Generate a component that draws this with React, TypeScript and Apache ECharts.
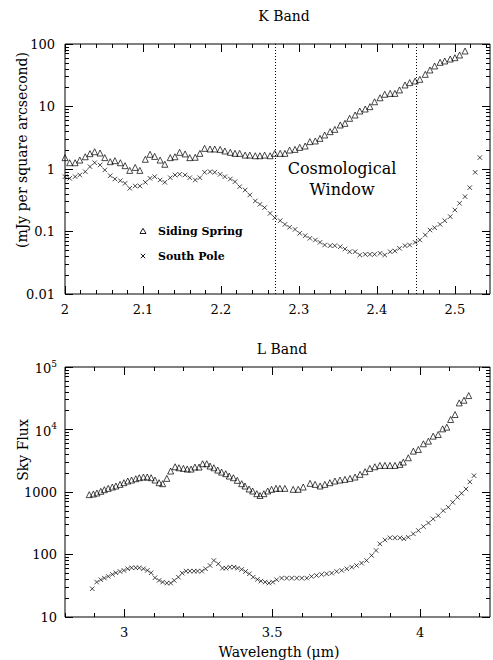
import React, { useEffect, useRef } from "react";
import * as echarts from "echarts";

// ---------- K band (top panel) ----------
const kWave = [
  2.0, 2.006, 2.013, 2.019, 2.026, 2.032, 2.038, 2.045, 2.051, 2.058,
  2.064, 2.071, 2.077, 2.083, 2.09, 2.096, 2.103, 2.109, 2.115, 2.122,
  2.128, 2.135, 2.141, 2.147, 2.154, 2.16, 2.167, 2.173, 2.179, 2.186,
  2.192, 2.199, 2.205, 2.212, 2.218, 2.224, 2.231, 2.237, 2.244, 2.25,
  2.256, 2.263, 2.269, 2.276, 2.282, 2.288, 2.295, 2.301, 2.308, 2.314,
  2.321, 2.327, 2.333, 2.34, 2.346, 2.353, 2.359, 2.365, 2.372, 2.378,
  2.385, 2.391, 2.397, 2.404, 2.41, 2.417, 2.423, 2.429, 2.436, 2.442,
  2.449, 2.455, 2.462, 2.468, 2.474, 2.481, 2.487, 2.494, 2.5, 2.506,
  2.513, 2.519, 2.526, 2.532,
];
const kSidingSpring = [
  1.52, 1.26, 1.26, 1.39, 1.57, 1.76, 1.89, 1.8, 1.52, 1.31,
  1.36, 1.26, 1.13, 0.95, 1.06, 0.95, 1.43, 1.72, 1.59, 1.39,
  1.19, 1.52, 1.57, 1.85, 1.74, 1.52, 1.54, 1.78, 2.14, 2.09,
  2.09, 2.06, 1.94, 1.85, 1.78, 1.78, 1.67, 1.67, 1.63, 1.63,
  1.67, 1.63, 1.78, 1.78, 1.78, 2.01, 2.06, 2.22, 2.33, 2.74,
  2.81, 3.09, 3.5, 3.96, 4.31, 5.06, 5.38, 6.47, 7.31, 8.47,
  9.12, 9.94, 11.9, 13.8, 15.7, 16.2, 16.2, 18.4, 22.1, 24.1,
  25.6, 27.2, 32.7, 38.4, 44.5, 50.9, 53.5, 57.5, 60.4, 66.7,
  77.3,
];
const kSouthPole = [
  0.754, 0.709, 0.754, 0.802, 0.906, 1.09, 1.26, 1.16, 0.964, 0.782,
  0.692, 0.65, 0.59, 0.491, 0.535, 0.535, 0.612, 0.709, 0.754, 0.667,
  0.612, 0.726, 0.802, 0.822, 0.802, 0.726, 0.667, 0.726, 0.885, 0.906,
  0.885, 0.822, 0.754, 0.692, 0.627, 0.521, 0.461, 0.384, 0.308, 0.272,
  0.241, 0.195, 0.166, 0.149, 0.13, 0.117, 0.108, 0.0935, 0.0857, 0.0778,
  0.0731, 0.0671, 0.0608, 0.0593, 0.0593, 0.0571, 0.0525, 0.0475, 0.0475, 0.0421,
  0.0431, 0.0431, 0.0431, 0.0448, 0.0421, 0.0475, 0.0488, 0.0538, 0.0593, 0.0608,
  0.067, 0.0731, 0.0879, 0.1057, 0.115, 0.13, 0.149, 0.173, 0.221, 0.282,
  0.361, 0.503, 0.885, 1.52,
];
const kXMajorTicks = [2, 2.1, 2.2, 2.3, 2.4, 2.5];
const kXMinorTicks = [
  2.02, 2.04, 2.06, 2.08, 2.12, 2.14, 2.16, 2.18, 2.22, 2.24, 2.26, 2.28,
  2.32, 2.34, 2.36, 2.38, 2.42, 2.44, 2.46, 2.48, 2.52, 2.54,
];
const kYDecades = [0.01, 0.1, 1, 10, 100];
const cosmologicalWindow = [2.27, 2.45];

// ---------- L band (bottom panel) ----------
const lWaveSiding = [
  2.882, 2.896, 2.908, 2.921, 2.933, 2.946, 2.96, 2.972, 2.986, 2.999,
  3.012, 3.025, 3.039, 3.051, 3.065, 3.078, 3.091, 3.104, 3.118, 3.13,
  3.144, 3.157, 3.172, 3.185, 3.2, 3.213, 3.226, 3.239, 3.253, 3.265,
  3.279, 3.29, 3.303, 3.316, 3.329, 3.343, 3.355, 3.369, 3.382, 3.397,
  3.408, 3.422, 3.434, 3.448, 3.459, 3.472, 3.485, 3.498, 3.513, 3.526,
  3.543, 3.571, 3.588, 3.605, 3.628, 3.645, 3.662, 3.678, 3.695, 3.712,
  3.729, 3.746, 3.763, 3.78, 3.797, 3.814, 3.83, 3.847, 3.864, 3.881,
  3.898, 3.915, 3.932, 3.943, 3.96, 3.977, 3.994, 4.011, 4.028, 4.044,
  4.061, 4.076, 4.09, 4.103, 4.118, 4.132, 4.148, 4.164,
];
const lSidingSpring = [
  907, 929, 964, 1025, 1089, 1144, 1202, 1247, 1325, 1409,
  1498, 1554, 1632, 1693, 1735, 1735, 1693, 1554, 1409, 1359,
  1652, 2163, 2535, 2443, 2387, 2328, 2328, 2506, 2506, 2833,
  2833, 2600, 2443, 2244, 2084, 1963, 1800, 1693, 1536, 1359,
  1247, 1117, 1037, 940, 880, 940, 1037, 1103, 1144, 1144,
  1144, 1103, 1103, 1202, 1375, 1325, 1247, 1325, 1409, 1498,
  1554, 1592, 1652, 1735, 1914, 2110, 2387, 2535, 2665, 2665,
  2665, 2665, 2763, 3010, 3530, 4510, 4795, 5905, 6510, 7830,
  8320, 10250, 10890, 14440, 17350, 26650, 29380, 34900,
];
const lWaveSouth = [
  2.892, 2.907, 2.921, 2.933, 2.946, 2.96, 2.972, 2.986, 2.999, 3.012,
  3.025, 3.039, 3.051, 3.065, 3.078, 3.091, 3.104, 3.118, 3.13, 3.144,
  3.157, 3.169, 3.183, 3.196, 3.209, 3.222, 3.236, 3.248, 3.262, 3.275,
  3.29, 3.303, 3.318, 3.332, 3.344, 3.357, 3.371, 3.383, 3.397, 3.41,
  3.423, 3.436, 3.45, 3.462, 3.476, 3.489, 3.502, 3.515,
  3.532, 3.549, 3.566, 3.583, 3.6, 3.617, 3.633, 3.65, 3.667, 3.684,
  3.701, 3.718, 3.735, 3.752, 3.769, 3.785, 3.802, 3.819, 3.836, 3.851,
  3.864, 3.881, 3.898, 3.915, 3.932, 3.945, 3.96, 3.977, 3.994, 4.011,
  4.028, 4.044, 4.061, 4.078, 4.095, 4.11, 4.126, 4.14, 4.155, 4.168,
  4.182,
];
const lSouthPole = [
  28.3, 36.2, 39.5, 41.9, 44.6, 48.0, 51.0, 53.5, 55.6, 59.1,
  61.3, 61.3, 61.3, 59.1, 55.6, 51.0, 42.5, 38.5, 36.2, 34.9,
  34.9, 38.5, 43.5, 50.4, 54.2, 54.2, 54.2, 54.2, 54.2, 59.1,
  66.7, 80.2, 71.0, 60.5, 60.5, 62.8, 62.8, 60.5, 57.7, 53.5,
  49.1, 43.5, 39.9, 37.5, 36.2, 34.9, 36.2, 39.5,
  41.9, 41.9, 41.9, 41.9, 41.9, 41.9, 44.6, 46.2, 48.0, 49.1,
  50.4, 53.5, 55.6, 59.1, 62.8, 66.7, 72.8, 80.2, 96.4, 116,
  148, 171, 185, 185, 185, 178, 189, 214, 242, 280,
  320, 371, 419, 503, 569, 684, 822, 953, 1117, 1450,
  1824,
];
const lXMajorTicks = [3, 3.5, 4];
const lXMinorTicks = [2.8, 2.9, 3.1, 3.2, 3.3, 3.4, 3.6, 3.7, 3.8, 3.9, 4.1, 4.2];
const lYDecades = [10, 100, 1000, 10000, 100000];

const FONT = '"DejaVu Serif", serif';
const CROSS = "path://M0,0L10,10M10,0L0,10";

const GRID_RECTS = [
  { left: 65, top: 44, width: 425, height: 250 },
  { left: 65, top: 367, width: 425, height: 250 },
];
const X_RANGES = [
  [2, 2.545],
  [2.8, 4.236],
];
const Y_RANGES = [
  [0.01, 100],
  [10, 100000],
];

function logMinor(decades: number[]) {
  const out: number[] = [];
  for (let i = 0; i < decades.length - 1; i++) {
    for (let m = 2; m <= 9; m++) out.push(decades[i] * m);
  }
  return out;
}

// Tick marks as markLine segments (data coordinates; inside, on all four sides).
function tickSegments(gi: number, xMaj: number[], xMin: number[], yMaj: number[], yMin: number[]) {
  const g = GRID_RECTS[gi];
  const [x0, x1] = X_RANGES[gi];
  const [y0, y1] = Y_RANGES[gi];
  const unitsPerPx = (x1 - x0) / g.width;
  const decadesPerPx = (Math.log10(y1) - Math.log10(y0)) / g.height;
  const segs: any[] = [];
  const style = { type: "solid", color: "#000", width: 1 };
  const addX = (vals: number[], len: number) => {
    const f = Math.pow(10, len * decadesPerPx);
    vals.forEach((v) => {
      segs.push([{ coord: [v, y0], lineStyle: style }, { coord: [v, y0 * f] }]);
      segs.push([{ coord: [v, y1], lineStyle: style }, { coord: [v, y1 / f] }]);
    });
  };
  const addY = (vals: number[], len: number) => {
    const d = len * unitsPerPx;
    vals.forEach((v) => {
      segs.push([{ coord: [x0, v], lineStyle: style }, { coord: [x0 + d, v] }]);
      segs.push([{ coord: [x1, v], lineStyle: style }, { coord: [x1 - d, v] }]);
    });
  };
  addX(xMaj, 8);
  addX(xMin, 4);
  addY(yMaj, 8);
  addY(yMin, 4);
  return segs;
}

function txt(x: number, y: number, text: string, font: string, align = "center", rotation = 0) {
  return {
    type: "text",
    x,
    y,
    rotation,
    style: {
      text,
      font,
      fill: "#000",
      align,
      textAlign: align,
      verticalAlign: "middle",
      textVerticalAlign: "middle",
    },
  };
}

export default function App() {
  const ref = useRef<HTMLDivElement>(null);

  useEffect(() => {
    if (!ref.current) return;
    const chart = echarts.init(ref.current, null, { renderer: "svg" });

    const grids = GRID_RECTS.map((g) => ({
      ...g,
      show: true,
      borderColor: "#000",
      borderWidth: 1,
    }));

    const labelBase = { color: "#000", fontFamily: FONT, fontSize: 13 };
    const hidden = {
      axisLine: { show: false, onZero: false },
      axisTick: { show: false },
      splitLine: { show: false },
      minorTick: { show: false },
    };

    const triStyle = { color: "transparent", borderColor: "#000", borderWidth: 0.9 };
    const crossStyle = { color: "transparent", borderColor: "#000", borderWidth: 0.9 };

    const tickMarkLine = (segs: any[]) => ({
      silent: true,
      symbol: "none",
      label: { show: false },
      lineStyle: { type: "solid", color: "#000", width: 1 },
      data: segs,
    });

    const graphic: any[] = [
      txt(284, 16, "K Band", `14px ${FONT}`),
      txt(282, 349, "L Band", `14px ${FONT}`),
      txt(22, 150, "(mJy per square arcsecond)", `14px ${FONT}`, "center", Math.PI / 2),
      txt(23, 450, "Sky Flux", `14px ${FONT}`, "center", Math.PI / 2),
      txt(279, 652, "Wavelength (\u03bcm)", `14px ${FONT}`),
      txt(342, 168, "Cosmological", `16px ${FONT}`),
      txt(342, 189, "Window", `16px ${FONT}`),
      {
        type: "polygon",
        shape: { points: [[140, 233.5], [146, 233.5], [143, 228.3]] },
        style: { fill: "none", stroke: "#000", lineWidth: 0.9 },
      },
      {
        type: "line",
        shape: { x1: 140.8, y1: 253.8, x2: 145.2, y2: 258.2 },
        style: { stroke: "#000", lineWidth: 0.9 },
      },
      {
        type: "line",
        shape: { x1: 145.2, y1: 253.8, x2: 140.8, y2: 258.2 },
        style: { stroke: "#000", lineWidth: 0.9 },
      },
      txt(158, 231, "Siding Spring", `bold 11px ${FONT}`, "left"),
      txt(158, 256, "South Pole", `bold 11px ${FONT}`, "left"),
    ];

    const option: any = {
      animation: false,
      textStyle: { fontFamily: FONT },
      grid: grids,
      xAxis: [
        {
          type: "value",
          gridIndex: 0,
          min: X_RANGES[0][0],
          max: X_RANGES[0][1],
          ...hidden,
          axisLabel: {
            ...labelBase,
            margin: 9,
            customValues: kXMajorTicks,
            formatter: (v: number) => String(Math.round(v * 10) / 10),
          },
        },
        {
          type: "value",
          gridIndex: 1,
          min: X_RANGES[1][0],
          max: X_RANGES[1][1],
          ...hidden,
          axisLabel: {
            ...labelBase,
            margin: 9,
            customValues: lXMajorTicks,
            formatter: (v: number) => String(v),
          },
        },
      ],
      yAxis: [
        {
          type: "log",
          logBase: 10,
          gridIndex: 0,
          min: Y_RANGES[0][0],
          max: Y_RANGES[0][1],
          ...hidden,
          axisLabel: {
            ...labelBase,
            margin: 10,
            formatter: (v: number) => {
              const e = Math.round(Math.log10(v));
              return e < 0 ? (e === -1 ? "0.1" : "0.01") : String(Math.pow(10, e));
            },
          },
        },
        {
          type: "log",
          logBase: 10,
          gridIndex: 1,
          min: Y_RANGES[1][0],
          max: Y_RANGES[1][1],
          ...hidden,
          axisLabel: {
            ...labelBase,
            margin: 8,
            formatter: (v: number) => {
              const e = Math.round(Math.log10(v));
              return e >= 4 ? `{b|10}{s|${e}}` : `{b|${Math.pow(10, e)}}`;
            },
            rich: {
              b: { fontFamily: FONT, fontSize: 13, color: "#000", verticalAlign: "bottom" },
              s: { fontFamily: FONT, fontSize: 9, color: "#000", verticalAlign: "bottom", padding: [0, 0, 7, 0] },
            },
          },
        },
      ],
      series: [
        {
          name: "Siding Spring",
          type: "scatter",
          xAxisIndex: 0,
          yAxisIndex: 0,
          symbol: "triangle",
          symbolSize: 6,
          itemStyle: triStyle,
          data: kSidingSpring.map((v, i) => [kWave[i], v]),
          markLine: {
            silent: true,
            symbol: "none",
            label: { show: false },
            lineStyle: { type: [1, 2], color: "#000", width: 1 },
            data: cosmologicalWindow.map((v) => ({ xAxis: v })),
          },
        },
        {
          name: "South Pole",
          type: "scatter",
          xAxisIndex: 0,
          yAxisIndex: 0,
          symbol: CROSS,
          symbolSize: 4.5,
          itemStyle: crossStyle,
          data: kSouthPole.map((v, i) => [kWave[i], v]),
          markLine: tickMarkLine(
            tickSegments(0, kXMajorTicks, kXMinorTicks, kYDecades, logMinor(kYDecades))
          ),
        },
        {
          name: "Siding Spring L",
          type: "scatter",
          xAxisIndex: 1,
          yAxisIndex: 1,
          symbol: "triangle",
          symbolSize: 6,
          itemStyle: triStyle,
          data: lSidingSpring.map((v, i) => [lWaveSiding[i], v]),
        },
        {
          name: "South Pole L",
          type: "scatter",
          xAxisIndex: 1,
          yAxisIndex: 1,
          symbol: CROSS,
          symbolSize: 4.5,
          itemStyle: crossStyle,
          data: lSouthPole.map((v, i) => [lWaveSouth[i], v]),
          markLine: tickMarkLine(
            tickSegments(1, lXMajorTicks, lXMinorTicks, lYDecades, logMinor(lYDecades))
          ),
        },
      ],
      graphic,
    };

    chart.setOption(option);
    return () => chart.dispose();
  }, []);

  return (
    <div
      ref={ref}
      style={{ position: "absolute", left: 0, top: 0, width: 493, height: 660, background: "#fff" }}
    />
  );
}
